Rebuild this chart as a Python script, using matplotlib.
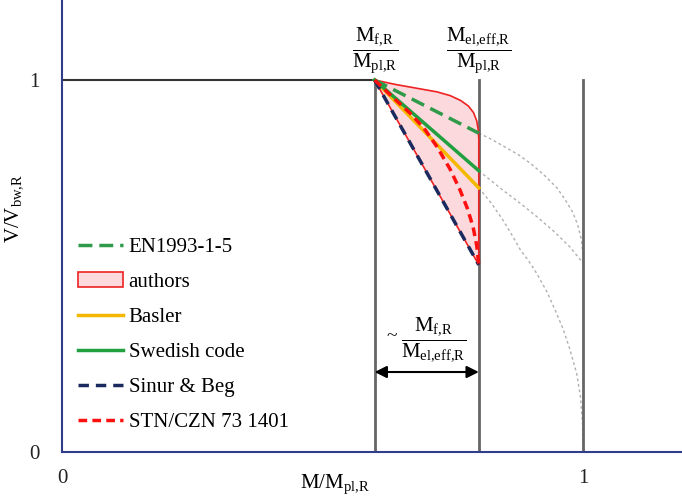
import numpy as np
import matplotlib
matplotlib.use('Agg')
import matplotlib.pyplot as plt

plt.rcParams['font.family'] = ['Liberation Serif', 'DejaVu Serif']
plt.rcParams['mathtext.default'] = 'regular'

# key M/Mpl,R positions
x_f = 0.6      # Mf,R / Mpl,R
x_el = 0.8     # Mel,eff,R / Mpl,R
x_pl = 1.0

# interaction curves
en_x = [0.6, 0.8]
en_y = [1.0, 0.857]
basler_x = [0.6, 0.8]
basler_y = [1.0, 0.71]
swedish_x = [0.6, 0.8]
swedish_y = [1.0, 0.756]
sinur_x = [0.6, 0.8]
sinur_y = [1.0, 0.503]
stn_x = [0.6, 0.63, 0.668, 0.695, 0.72, 0.745, 0.764, 0.778, 0.789, 0.796, 0.8]
stn_y = [1.0, 0.96, 0.911, 0.87, 0.82, 0.76, 0.704, 0.655, 0.605, 0.555, 0.503]

# authors: upper boundary, lower boundary is the Sinur & Beg line
auth_x = [0.6, 0.64, 0.68, 0.72, 0.745, 0.765, 0.78, 0.79, 0.796, 0.799, 0.8, 0.8]
auth_y = [1.0, 0.988, 0.978, 0.968, 0.958, 0.945, 0.93, 0.912, 0.89, 0.865, 0.84, 0.503]

# grey dotted continuations to M = Mpl,R
g1_x = [0.8, 0.825, 0.85, 0.875, 0.9, 0.925, 0.95, 0.965, 0.98, 0.99, 0.997, 1.0, 1.0]
g1_y = [0.857, 0.84, 0.82, 0.80, 0.775, 0.745, 0.71, 0.68, 0.645, 0.61, 0.57, 0.53, 0.51]
g2_x = [0.8, 0.846, 0.88, 0.912, 0.945, 0.975, 1.0]
g2_y = [0.756, 0.704, 0.668, 0.632, 0.592, 0.551, 0.508]
g3_x = [0.8, 0.825, 0.846, 0.865, 0.88, 0.9, 0.912, 0.931, 0.947, 0.962, 0.975, 0.988, 0.995, 0.999, 1.0]
g3_y = [0.71, 0.667, 0.624, 0.58, 0.543, 0.505, 0.478, 0.43, 0.38, 0.33, 0.275, 0.21, 0.15, 0.08, 0.02]

fig = plt.figure(figsize=(6.82, 4.97), dpi=100)
ax = fig.add_axes([62/682, 45/497, 1 - 62/682, 1 - 45/497])
ax.set_xlim(0, 1.19)
ax.set_ylim(0, 1.215)

for s in ['top', 'right']:
    ax.spines[s].set_visible(False)
for s in ['left', 'bottom']:
    ax.spines[s].set_color('#2f3d8a')
    ax.spines[s].set_linewidth(1.5)

ax.set_xticks([0, 1])
ax.set_yticks([0, 1])
ax.set_xticklabels(['0', '1'])
ax.set_yticklabels(['0', '1'])
ax.tick_params(length=0, labelsize=15, colors='#222222')
ax.tick_params(axis='x', pad=12)
ax.tick_params(axis='y', pad=16)

# frame lines
ax.plot([0, x_f], [1, 1], color='#333333', lw=1.5, zorder=2)
for xv in [x_f, x_el, x_pl]:
    ax.plot([xv, xv], [0, 1], color='#666666', lw=2, zorder=2)

# grey dotted continuations
for gx, gy in [(g1_x, g1_y), (g2_x, g2_y), (g3_x, g3_y)]:
    ax.plot(gx, gy, color='#b0b0b0', lw=1, ls=(0, (2, 2)), zorder=1)

# authors region
poly_x = auth_x + sinur_x[::-1]
poly_y = auth_y + sinur_y[::-1]
ax.fill(poly_x, poly_y, facecolor='#fcd9dc', edgecolor='#ee2222', lw=1.2,
        zorder=3, label='authors')

ax.plot(en_x, en_y, color='#2e9a4a', lw=2.5, ls=(0, (4, 2)), zorder=5, label='EN1993-1-5')
ax.plot(basler_x, basler_y, color='#f5b800', lw=2.5, zorder=4, label='Basler')
ax.plot(swedish_x, swedish_y, color='#22a040', lw=2.5, zorder=5, label='Swedish code')
ax.plot(sinur_x, sinur_y, color='#1b2a5e', lw=2.5, ls=(0, (3, 2)), zorder=6, label='Sinur & Beg')
ax.plot(stn_x, stn_y, color='#ff1010', lw=2.5, ls=(0, (2.5, 1.5)), zorder=6, label='STN/CZN 73 1401')

handles, labels = ax.get_legend_handles_labels()
order = ['EN1993-1-5', 'authors', 'Basler', 'Swedish code', 'Sinur & Beg', 'STN/CZN 73 1401']
hmap = dict(zip(labels, handles))
ax.legend([hmap[k] for k in order], order, loc='upper left',
          bbox_to_anchor=(0.025, 0.475), frameon=False, fontsize=15,
          handlelength=2.2, handletextpad=0.25, labelspacing=0.74,
          borderpad=0, borderaxespad=0)

# annotations
ax.text(x_f, 1.08, r'$\dfrac{M_{f{,}R}}{M_{pl{,}R}}$', fontsize=15, ha='center', va='center')
ax.text(x_el, 1.08, r'$\dfrac{M_{el{,}eff{,}R}}{M_{pl{,}R}}$', fontsize=15, ha='center', va='center')
ax.annotate('', xy=(x_f, 0.215), xytext=(x_el, 0.215),
            arrowprops=dict(arrowstyle='<|-|>', color='black', lw=1.5,
                            shrinkA=0, shrinkB=0, mutation_scale=18))
ax.text(0.632, 0.31, '~', fontsize=14, ha='center', va='center')
ax.text(0.714, 0.30, r'$\dfrac{M_{f{,}R}}{M_{el{,}eff{,}R}}$', fontsize=15, ha='center', va='center')

ax.set_xlabel(r'M/M$_{pl{,}R}$', fontsize=15)
ax.set_ylabel(r'V/V$_{bw{,}R}$', fontsize=15)
ax.yaxis.set_label_coords(-0.06, 0.54)
ax.xaxis.set_label_coords(0.44, -0.046)

fig.savefig('out.png', dpi=100)
